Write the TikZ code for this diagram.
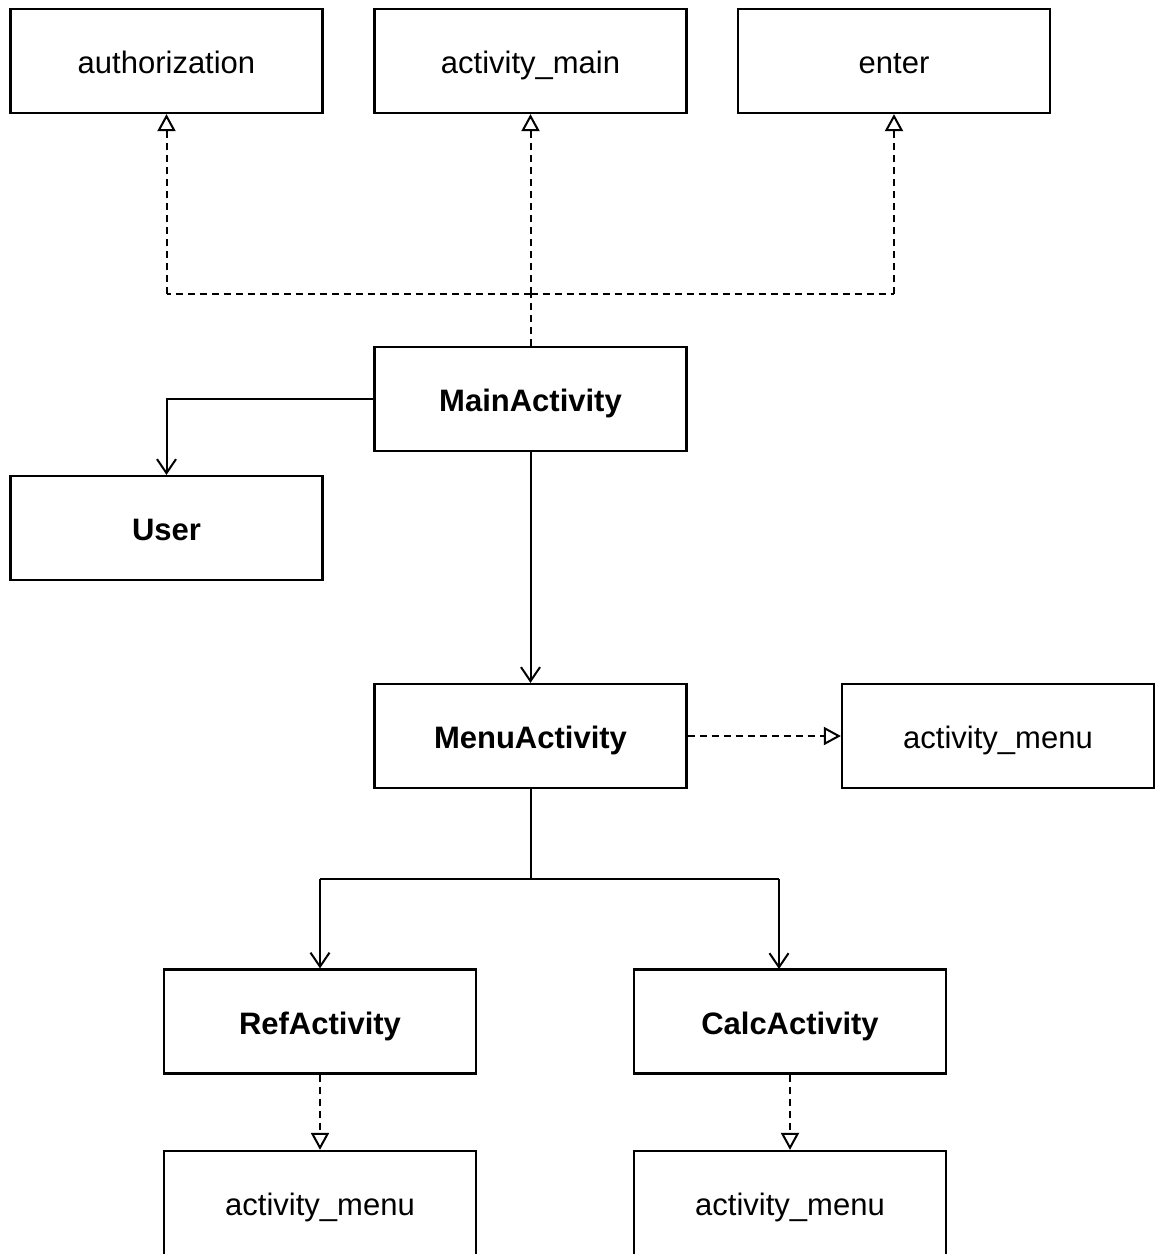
\documentclass[tikz,border=0pt]{standalone}
\usepackage{fontspec}
\setmainfont{Liberation Sans}
\usetikzlibrary{arrows.meta}
\begin{document}
\begin{tikzpicture}[x=1pt,y=-1pt,
  box/.style={draw, line width=2.2pt, minimum width=312pt, minimum height=104pt,
    inner sep=0pt, text height=25pt, text depth=0pt,
    font=\fontsize{31}{36}\selectfont},
  cls/.style={box, font=\fontsize{31}{36}\selectfont\bfseries},
  assoc/.style={line width=2pt, -{Straight Barb[length=14pt,width=19pt,line width=2pt]}},
  dep/.style={line width=2pt, dash pattern=on 7pt off 5pt,
    -{Triangle[open,length=17pt,width=18pt,line width=2pt]}},
  link/.style={line width=2pt, dash pattern=on 7pt off 5pt}]
\useasboundingbox (0,0) rectangle (1158,1254);

% layout resources
\node[box] (auth) at (166.5,61) {authorization};
\node[box] (amain) at (530.5,61) {activity\_main};
\node[box] (enter) at (894,61) {enter};

% activities
\node[cls] (main) at (530.5,399) {MainActivity};
\node[cls] (user) at (166.5,528) {User};
\node[cls] (menu) at (530.5,736) {MenuActivity};
\node[box] (amenu) at (998,736) {activity\_menu};
\node[cls] (ref) at (320,1021.5) {RefActivity};
\node[cls] (calc) at (790,1021.5) {CalcActivity};
\node[box] (amenuA) at (320,1203) {activity\_menu};
\node[box] (amenuB) at (790,1203) {activity\_menu};

% routing points
\coordinate (jl) at (166.5,294);
\coordinate (jm) at (530.5,294);
\coordinate (jr) at (894,294);
\coordinate (fork) at (530.5,879);
\coordinate (fl) at (320,879);
\coordinate (fr) at (779,879);
\coordinate (calcin) at (779,969);

% dependencies of MainActivity on its layouts
\draw[link] (main.north) -- (jm);
\draw[dep] (jm) -- (amain.south);
\draw[link] (jm) -- (jl);
\draw[dep] (jl) -- (auth.south);
\draw[link] (jm) -- (jr);
\draw[dep] (jr) -- (enter.south);

% associations
\draw[assoc] (main.west) -| (user.north);
\draw[assoc] (main.south) -- (menu.north);
\draw[line width=2pt] (menu.south) -- (fork);
\draw[line width=2pt] (fl) -- (fr);
\draw[assoc] (fl) -- (ref.north);
\draw[assoc] (fr) -- (calcin);

% layouts of the menu screens
\draw[dep] (menu.east) -- (amenu.west);
\draw[dep] (ref.south) -- (amenuA.north);
\draw[dep] (calc.south) -- (amenuB.north);
\end{tikzpicture}
\end{document}
